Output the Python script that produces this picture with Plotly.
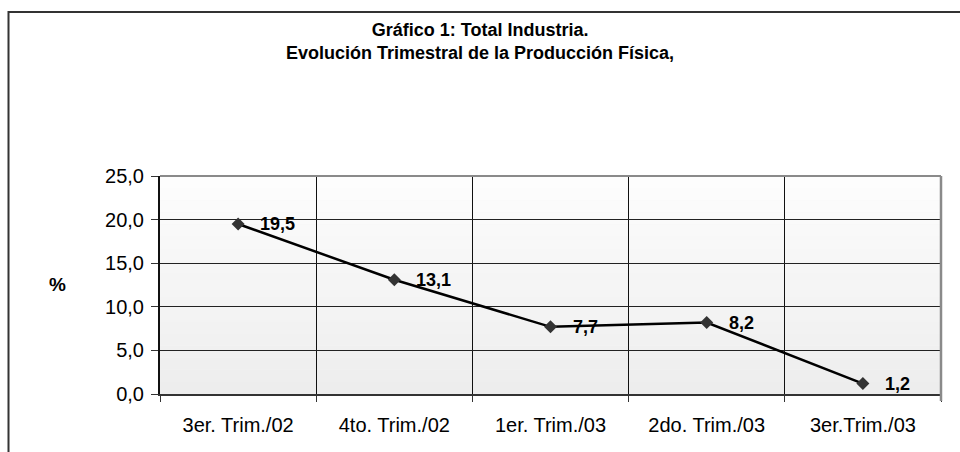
import plotly.graph_objects as go

categories = ["3er. Trim./02", "4to. Trim./02", "1er. Trim./03", "2do. Trim./03", "3er.Trim./03"]
values = [19.5, 13.1, 7.7, 8.2, 1.2]
value_labels = ["19,5", "13,1", "7,7", "8,2", "1,2"]
y_ticks = [0, 5, 10, 15, 20, 25]
y_tick_labels = ["0,0", "5,0", "10,0", "15,0", "20,0", "25,0"]
title_lines = ["Gráfico 1: Total Industria.", "Evolución Trimestral de la Producción Física,"]
y_label = "%"

FONT = "Liberation Sans, Arial, sans-serif"
W, H = 960, 452
L, R, T, B = 160, 19, 176, 58
pw, ph = W - L - R, H - T - B

def px_x(px):
    return (px - L) / pw

def px_y(py):
    return (H - B - py) / ph

fig = go.Figure()
fig.add_trace(go.Scatter(
    x=categories, y=values, mode="lines+markers",
    line=dict(color="#000000", width=2.5),
    marker=dict(symbol="diamond", size=10, color="#333333"),
    hoverinfo="skip", showlegend=False,
))

shapes = []
# vertical gradient background of plot area (style only)
n = 18
top_c, bot_c = 253, 237
for i in range(n):
    c = round(bot_c + (top_c - bot_c) * i / (n - 1))
    shapes.append(dict(type="rect", xref="paper", yref="paper",
                       x0=0, x1=1, y0=i / n, y1=(i + 1) / n,
                       fillcolor=f"rgb({c},{c},{c})", line=dict(width=0), layer="below"))
# top and right plot borders (gray)
shapes.append(dict(type="line", xref="paper", yref="paper", x0=0, x1=1, y0=1, y1=1,
                   line=dict(color="#8a8a8a", width=2), layer="above"))
shapes.append(dict(type="line", xref="paper", yref="paper", x0=1, x1=1, y0=px_y(401), y1=1,
                   line=dict(color="#8a8a8a", width=2.5), layer="above"))
# outer chart border
shapes.append(dict(type="rect", xref="paper", yref="paper",
                   x0=px_x(8.5), x1=px_x(975), y0=px_y(470), y1=px_y(12),
                   line=dict(color="#333333", width=2), fillcolor="rgba(0,0,0,0)", layer="above"))

annotations = []
for c, v, t in zip(categories, values, value_labels):
    annotations.append(dict(x=c, y=v, text="<b>" + t + "</b>", showarrow=False,
                            xanchor="left", yanchor="middle",
                            xshift=20, font=dict(family=FONT, size=18, color="#000000")))
annotations.append(dict(xref="paper", yref="paper", x=0.5 * (px_x(373) + px_x(587)), y=px_y(42),
                        text="<b>" + "<br>".join(title_lines) + "</b>", showarrow=False,
                        xanchor="center", yanchor="middle",
                        font=dict(family=FONT, size=18, color="#000000")))
annotations.append(dict(xref="paper", yref="paper", x=px_x(57), y=px_y(284),
                        text="<b>" + y_label + "</b>", showarrow=False,
                        xanchor="center", yanchor="middle",
                        font=dict(family=FONT, size=19, color="#000000")))

fig.update_layout(
    width=W, height=H,
    margin=dict(l=L, r=R, t=T, b=B, pad=0),
    paper_bgcolor="#ffffff", plot_bgcolor="#f5f5f5",
    separators=",.",
    font=dict(family=FONT, size=20, color="#000000"),
    shapes=shapes, annotations=annotations,
    showlegend=False,
)
fig.update_xaxes(
    type="category", range=[-0.5, 4.5], tickson="boundaries",
    showgrid=True, gridcolor="#111111", gridwidth=1,
    showline=True, linecolor="#333333", linewidth=2,
    ticks="outside", ticklen=6, tickcolor="#333333", tickwidth=1,
    ticklabelstandoff=12,
    tickfont=dict(family=FONT, size=20, color="#000000"),
    fixedrange=True,
)
fig.update_yaxes(
    range=[0, 25], tickmode="array", tickvals=y_ticks, ticktext=y_tick_labels,
    showgrid=True, gridcolor="#222222", gridwidth=1,
    showline=True, linecolor="#111111", linewidth=2,
    ticks="outside", ticklen=7, tickcolor="#333333", tickwidth=1,
    ticklabelstandoff=3,
    tickfont=dict(family=FONT, size=20, color="#000000"),
    zeroline=False, fixedrange=True,
)

fig.write_html(
    "out.html",
    config={"displayModeBar": False},
    post_script="document.body.style.margin='0';document.body.style.padding='0';"
                "document.documentElement.style.overflow='hidden';",
)
